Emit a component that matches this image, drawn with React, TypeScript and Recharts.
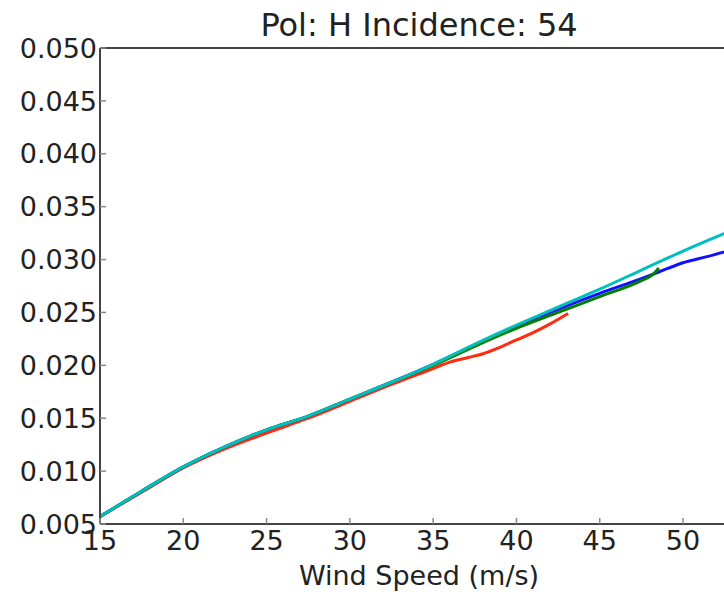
import { Line, LineChart, XAxis, YAxis } from 'recharts'

// wind speed (m/s) and normalized backscatter per curve
const redSpeeds = [15, 17.5, 20, 22.5, 25, 27.5, 30, 32.5, 35, 36, 37, 38, 39, 40, 41, 42, 43.1]
const redValues = [
  0.0057, 0.008, 0.0103, 0.0121, 0.0136, 0.015, 0.0166, 0.0182, 0.0197, 0.0203, 0.0207,
  0.0211, 0.0217, 0.0224, 0.0231, 0.0239, 0.0249,
]

const greenSpeeds = [15, 17.5, 20, 22.5, 25, 27.5, 30, 32.5, 35, 37.5, 40, 42.5, 45, 47.5, 48.2, 48.55]
const greenValues = [
  0.0057, 0.0081, 0.0104, 0.0123, 0.0139, 0.0152, 0.0168, 0.0184, 0.02, 0.0218, 0.0235,
  0.025, 0.0265, 0.028, 0.0286, 0.0292,
]

const blueSpeeds = [15, 17.5, 20, 22.5, 25, 27.5, 30, 32.5, 35, 37.5, 40, 42.5, 45, 47.5, 48.5, 50, 51.5, 53.3]
const blueValues = [
  0.0057, 0.0081, 0.0104, 0.0123, 0.0139, 0.0152, 0.0168, 0.0184, 0.0201, 0.0219, 0.0237,
  0.0253, 0.0268, 0.0282, 0.0288, 0.0297, 0.0303, 0.0311,
]

const cyanSpeeds = [15, 17.5, 20, 22.5, 25, 27.5, 30, 32.5, 35, 37.5, 40, 42.5, 45, 47.5, 50, 53.3]
const cyanValues = [
  0.0057, 0.0081, 0.0104, 0.0123, 0.0139, 0.0152, 0.0168, 0.0184, 0.0201, 0.022, 0.0238,
  0.0255, 0.0272, 0.029, 0.0308, 0.033,
]

const xTicks = [15, 20, 25, 30, 35, 40, 45, 50]
const yTicks = [0.005, 0.01, 0.015, 0.02, 0.025, 0.03, 0.035, 0.04, 0.045, 0.05]

const toPoints = (speeds: number[], values: number[]) =>
  speeds.map((speed, i) => ({ speed, value: values[i] }))

const series = [
  { name: 'red', color: '#ff2a10', data: toPoints(redSpeeds, redValues) },
  { name: 'blue', color: '#1010ff', data: toPoints(blueSpeeds, blueValues) },
  { name: 'green', color: '#008000', data: toPoints(greenSpeeds, greenValues) },
  { name: 'cyan', color: '#00bfbf', data: toPoints(cyanSpeeds, cyanValues) },
]

const font = '"DejaVu Sans", sans-serif'
const textColor = '#222'
const spine = '#444'
const tickColor = '#888'

function BottomTick({ x, y, payload }: any) {
  return (
    <g>
      <line x1={x} y1={y} x2={x} y2={y - 6} stroke={tickColor} strokeWidth={1.5} />
      <text x={x} y={y + 26} textAnchor="middle" fontSize={27} fontFamily={font} fill={textColor}>
        {payload.value}
      </text>
    </g>
  )
}

// the top axis is 1px tall, so its tick origin sits 1px above the frame
function TopTick({ x, y }: any) {
  return <line x1={x} y1={y + 1} x2={x} y2={y + 7} stroke={tickColor} strokeWidth={1.5} />
}

function LeftTick({ x, y, payload }: any) {
  return (
    <g>
      <line x1={x} y1={y} x2={x + 6} y2={y} stroke={tickColor} strokeWidth={1.5} />
      <text x={x - 3} y={y} dy="0.36em" textAnchor="end" fontSize={27} fontFamily={font} fill={textColor}>
        {payload.value.toFixed(3)}
      </text>
    </g>
  )
}

export default function App() {
  return (
    <div
      style={{
        position: 'absolute',
        left: 0,
        top: 0,
        width: 724,
        height: 592,
        overflow: 'hidden',
        background: '#fff',
      }}
    >
      <LineChart width={738} height={592} margin={{ top: 47, right: 0, bottom: 0, left: 0 }}>
        <XAxis
          dataKey="speed"
          type="number"
          domain={[15, 53.3]}
          ticks={xTicks}
          height={68}
          tickSize={0}
          tickMargin={0}
          tickLine={false}
          tick={BottomTick}
          axisLine={{ stroke: spine, strokeWidth: 2 }}
          label={{
            value: 'Wind Speed (m/s)',
            position: 'insideBottom',
            offset: 7,
            fontSize: 27,
            fontFamily: font,
            fill: textColor,
          }}
        />
        <XAxis
          xAxisId="top"
          orientation="top"
          dataKey="speed"
          type="number"
          domain={[15, 53.3]}
          ticks={xTicks}
          height={1}
          tickSize={0}
          tickMargin={0}
          tickLine={false}
          tick={TopTick}
          axisLine={{ stroke: spine, strokeWidth: 2 }}
          label={{
            value: 'Pol: H Incidence: 54',
            position: 'top',
            offset: 11,
            fontSize: 32,
            fontFamily: font,
            fill: textColor,
          }}
        />
        <YAxis
          type="number"
          domain={[0.005, 0.05]}
          ticks={yTicks}
          width={100}
          tickSize={0}
          tickMargin={0}
          tickLine={false}
          tick={LeftTick}
          axisLine={{ stroke: spine, strokeWidth: 2 }}
        />
        {series.map((s) => (
          <Line
            key={s.name}
            data={s.data}
            dataKey="value"
            type="monotone"
            stroke={s.color}
            strokeWidth={3}
            dot={false}
            activeDot={false}
            isAnimationActive={false}
          />
        ))}
      </LineChart>
    </div>
  )
}
